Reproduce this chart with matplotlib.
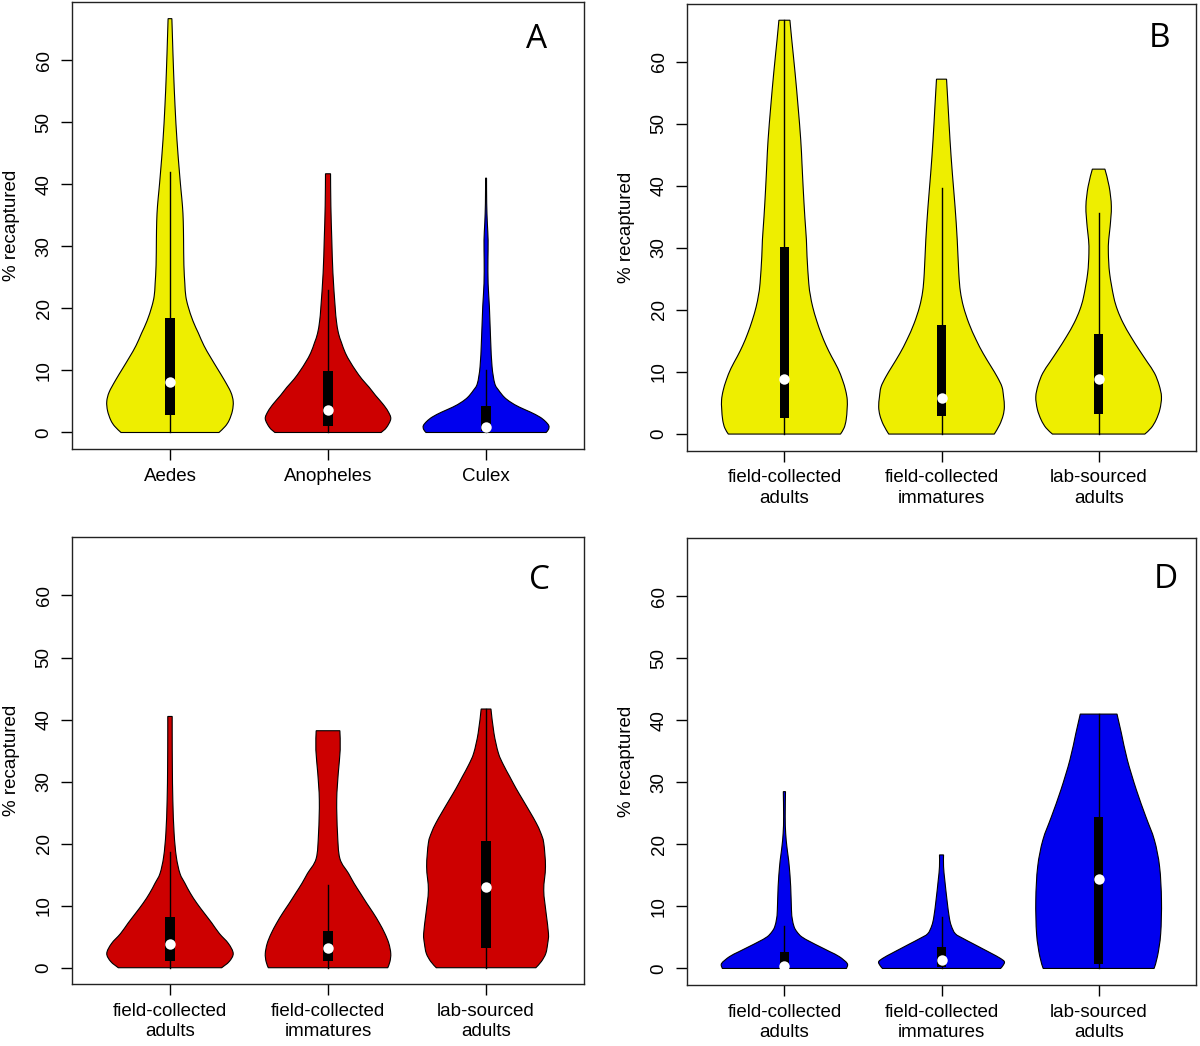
import matplotlib
matplotlib.use("Agg")
import matplotlib.pyplot as plt
from matplotlib.path import Path
from matplotlib.patches import PathPatch

plt.rcParams['font.family'] = ['Liberation Sans', 'DejaVu Sans']

# colours used by the original R vioplot figure
YELLOW = '#EEEE00'
RED = '#CD0000'
BLUE = '#0000EE'

genus_labels = ['Aedes', 'Anopheles', 'Culex']
source_labels = ['field-collected\nadults', 'field-collected\nimmatures', 'lab-sourced\nadults']
panel_letters = ['A', 'B', 'C', 'D']
y_ticks = [0, 10, 20, 30, 40, 50, 60]

# violin outlines: % recaptured level and half width
aedes_y = [0, 1, 2, 3.5, 5, 6.5, 8.4, 10.3, 12.2, 14, 16, 18, 20.3, 22, 24, 27, 31, 34, 36.5, 39, 41.9, 47.2, 52.6, 58, 63.4, 66.7]
aedes_w = [0.31, 0.35, 0.375, 0.395, 0.4, 0.385, 0.345, 0.30, 0.255, 0.215, 0.18, 0.145, 0.115, 0.10, 0.094, 0.088, 0.086, 0.084, 0.079, 0.07, 0.06, 0.044, 0.032, 0.023, 0.016, 0.012]
anoph_y = [0, 0.8, 2.2, 3.4, 4.6, 6, 7.3, 8.6, 10, 11.4, 12.8, 14.5, 16, 18, 20.3, 25.7, 31, 36.5, 41.7]
anoph_w = [0.336, 0.37, 0.397, 0.38, 0.347, 0.30, 0.26, 0.215, 0.175, 0.14, 0.11, 0.085, 0.066, 0.053, 0.045, 0.031, 0.024, 0.018, 0.016]
culex_y = [0, 0.5, 1.1, 1.8, 2.5, 3.3, 4.1, 4.9, 5.7, 6.8, 7.9, 10.6, 14.9, 20.3, 24, 27.8, 31, 33.8, 37, 41]
culex_w = [0.38, 0.395, 0.397, 0.375, 0.34, 0.28, 0.21, 0.155, 0.115, 0.08, 0.055, 0.038, 0.029, 0.021, 0.013, 0.012, 0.013, 0.008, 0.004, 0.003]

b1_y = [0, 1, 2.3, 4, 5.5, 7, 8.7, 10.6, 12.5, 14.3, 16.2, 18.3, 20.5, 22.4, 24.3, 28.6, 31.3, 35, 39.4, 43.5, 47.4, 52.8, 58.2, 63.5, 66.7]
b1_w = [0.357, 0.38, 0.393, 0.399, 0.40, 0.39, 0.37, 0.34, 0.30, 0.265, 0.234, 0.205, 0.18, 0.165, 0.155, 0.144, 0.14, 0.13, 0.12, 0.112, 0.104, 0.087, 0.068, 0.047, 0.035]
b2_y = [0, 1.5, 3, 4.4, 6, 7.6, 9.2, 10.9, 13, 15.2, 17.8, 20.5, 23, 25.9, 31.3, 36.7, 42, 47.4, 52.8, 57.2]
b2_w = [0.336, 0.37, 0.392, 0.40, 0.395, 0.385, 0.355, 0.315, 0.265, 0.22, 0.175, 0.14, 0.12, 0.11, 0.10, 0.086, 0.069, 0.054, 0.042, 0.032]
b3_y = [0, 1, 2.3, 4, 6, 7.9, 9.8, 11.6, 13.5, 15.7, 17.9, 20, 22.1, 25.9, 29.1, 31.3, 33.4, 36.7, 39.9, 42.7]
b3_w = [0.294, 0.335, 0.366, 0.39, 0.40, 0.385, 0.356, 0.31, 0.26, 0.205, 0.156, 0.12, 0.096, 0.07, 0.062, 0.064, 0.073, 0.081, 0.067, 0.04]

c1_y = [0, 1, 2.3, 3.9, 5.5, 7.2, 8.8, 10.4, 12, 13.6, 15.2, 17.9, 21.7, 27, 32.4, 37.8, 40.5]
c1_w = [0.327, 0.375, 0.40, 0.37, 0.313, 0.265, 0.217, 0.17, 0.129, 0.095, 0.063, 0.04, 0.026, 0.018, 0.015, 0.014, 0.014]
c2_y = [0, 1, 2.3, 3.9, 5.5, 7.2, 8.8, 10.4, 12, 13.6, 15.2, 17.6, 21.7, 27, 31.4, 35.1, 38.2]
c2_w = [0.378, 0.392, 0.397, 0.385, 0.36, 0.325, 0.287, 0.245, 0.205, 0.165, 0.13, 0.075, 0.06, 0.055, 0.065, 0.077, 0.075]
c3_y = [0, 1, 2.3, 3.9, 5.5, 8.8, 12.5, 16.3, 20.1, 21.8, 23.3, 25.1, 27, 28.9, 30.8, 32.7, 34.6, 37.8, 41.7]
c3_w = [0.315, 0.35, 0.378, 0.39, 0.395, 0.38, 0.365, 0.376, 0.365, 0.345, 0.318, 0.278, 0.234, 0.19, 0.15, 0.11, 0.078, 0.05, 0.031]

d1_y = [0, 0.8, 1.9, 2.7, 3.5, 4.3, 5.1, 5.9, 6.7, 8, 9.4, 13.2, 16.4, 18, 19.6, 21.8, 24.5, 28.5]
d1_w = [0.395, 0.40, 0.35, 0.29, 0.227, 0.165, 0.11, 0.08, 0.062, 0.05, 0.045, 0.04, 0.031, 0.024, 0.016, 0.008, 0.005, 0.007]
d2_y = [0, 0.5, 1.1, 1.7, 2.4, 3.2, 4.0, 4.8, 5.6, 6.9, 8.3, 11, 14.2, 16.4, 18.3]
d2_w = [0.376, 0.392, 0.40, 0.37, 0.32, 0.26, 0.2, 0.14, 0.088, 0.062, 0.049, 0.035, 0.021, 0.013, 0.013]
d3_y = [0, 2, 5.6, 11, 16.4, 20.7, 24.5, 28.8, 33.6, 37.9, 41]
d3_w = [0.353, 0.375, 0.395, 0.40, 0.388, 0.355, 0.30, 0.24, 0.183, 0.145, 0.117]

# box plot stats per violin: lower whisker, q1, median, q3, upper whisker
a_stats = [(0, 2.9, 8.1, 18.5, 42.0), (0, 1.1, 3.7, 9.9, 22.9), (0, 0.3, 0.9, 4.3, 10.0)]
b_stats = [(0, 2.6, 8.8, 30.1, 66.7), (0, 2.95, 5.75, 17.6, 39.6), (0, 3.2, 8.8, 16.1, 35.6)]
c_stats = [(0, 1.1, 3.8, 8.1, 18.6), (0, 1.1, 3.1, 6.0, 13.3), (0, 3.1, 13.0, 20.5, 41.7)]
d_stats = [(0, 0.1, 0.4, 2.6, 6.8), (0, 0.3, 1.3, 3.5, 8.3), (0, 0.8, 14.4, 24.4, 41.0)]


def smooth_side(pts):
    """Catmull-Rom through the outline points, as bezier path pieces"""
    verts, codes = [], []
    n = len(pts)
    for i in range(n - 1):
        p0 = pts[max(i - 1, 0)]
        p1 = pts[i]
        p2 = pts[i + 1]
        p3 = pts[min(i + 2, n - 1)]
        c1 = (p1[0] + (p2[0] - p0[0]) / 6, p1[1] + (p2[1] - p0[1]) / 6)
        c2 = (p2[0] - (p3[0] - p1[0]) / 6, p2[1] - (p3[1] - p1[1]) / 6)
        verts += [c1, c2, p2]
        codes += [Path.CURVE4] * 3
    return verts, codes


def draw_violin(ax, pos, ys, ws, stats, color):
    right = [(pos + w, y) for w, y in zip(ws, ys)]
    left = [(pos - w, y) for w, y in zip(ws, ys)][::-1]
    verts, codes = [right[0]], [Path.MOVETO]
    v, c = smooth_side(right)
    verts += v
    codes += c
    verts.append(left[0])
    codes.append(Path.LINETO)
    v, c = smooth_side(left)
    verts += v
    codes += c
    verts.append(right[0])
    codes.append(Path.CLOSEPOLY)
    ax.add_patch(PathPatch(Path(verts, codes), facecolor=color, edgecolor='black',
                           linewidth=0.8, zorder=2))
    lo, q1, med, q3, hi = stats
    ax.plot([pos, pos], [lo, hi], color='black', linewidth=1.0, zorder=3)
    ax.bar(pos, q3 - q1, bottom=q1, width=0.058, color='black', zorder=4)
    ax.plot(pos, med, 'o', color='white', markersize=7.5, markeredgewidth=0, zorder=5)


def setup_axes(ax, labels, letter, letter_xy):
    ax.set_xlim(0.38, 3.62)
    ax.set_ylim(-2.668, 69.37)
    ax.set_xticks([1, 2, 3])
    ax.set_xticklabels(labels, fontsize=13.5, linespacing=1.25)
    ax.set_yticks(y_ticks)
    ax.set_yticklabels([str(t) for t in y_ticks], rotation=90, va='center', fontsize=13.5)
    ax.tick_params(axis='x', length=8, width=1, pad=5.5)
    ax.tick_params(axis='y', length=8, width=1, pad=6)
    for s in ax.spines.values():
        s.set_linewidth(1.0)
        s.set_color('#222222')
    ax.set_ylabel('% recaptured', fontsize=13.5)
    ax.yaxis.set_label_coords(-0.102, 0.5)
    ax.text(letter_xy[0], letter_xy[1], letter, transform=ax.transAxes,
            ha='center', va='center', fontsize=24, family=['Open Sans', 'DejaVu Sans'])


fig = plt.figure(figsize=(12, 10.46), dpi=100)
ax_a = fig.add_axes([0.06, 0.5707, 0.4267, 0.4273])
ax_b = fig.add_axes([0.5725, 0.5692, 0.4242, 0.4273])
ax_c = fig.add_axes([0.06, 0.059, 0.4267, 0.4273])
ax_d = fig.add_axes([0.5725, 0.0583, 0.4242, 0.4273])

# A: genus
draw_violin(ax_a, 1, aedes_y, aedes_w, a_stats[0], YELLOW)
draw_violin(ax_a, 2, anoph_y, anoph_w, a_stats[1], RED)
draw_violin(ax_a, 3, culex_y, culex_w, a_stats[2], BLUE)
setup_axes(ax_a, genus_labels, panel_letters[0], (0.908, 0.917))

# B: Aedes by source
for i, (ys, ws) in enumerate([(b1_y, b1_w), (b2_y, b2_w), (b3_y, b3_w)]):
    draw_violin(ax_b, i + 1, ys, ws, b_stats[i], YELLOW)
setup_axes(ax_b, source_labels, panel_letters[1], (0.929, 0.921))

# C: Anopheles by source
for i, (ys, ws) in enumerate([(c1_y, c1_w), (c2_y, c2_w), (c3_y, c3_w)]):
    draw_violin(ax_c, i + 1, ys, ws, c_stats[i], RED)
setup_axes(ax_c, source_labels, panel_letters[2], (0.913, 0.904))

# D: Culex by source
for i, (ys, ws) in enumerate([(d1_y, d1_w), (d2_y, d2_w), (d3_y, d3_w)]):
    draw_violin(ax_d, i + 1, ys, ws, d_stats[i], BLUE)
setup_axes(ax_d, source_labels, panel_letters[3], (0.941, 0.908))

fig.savefig('out.png', dpi=100)
